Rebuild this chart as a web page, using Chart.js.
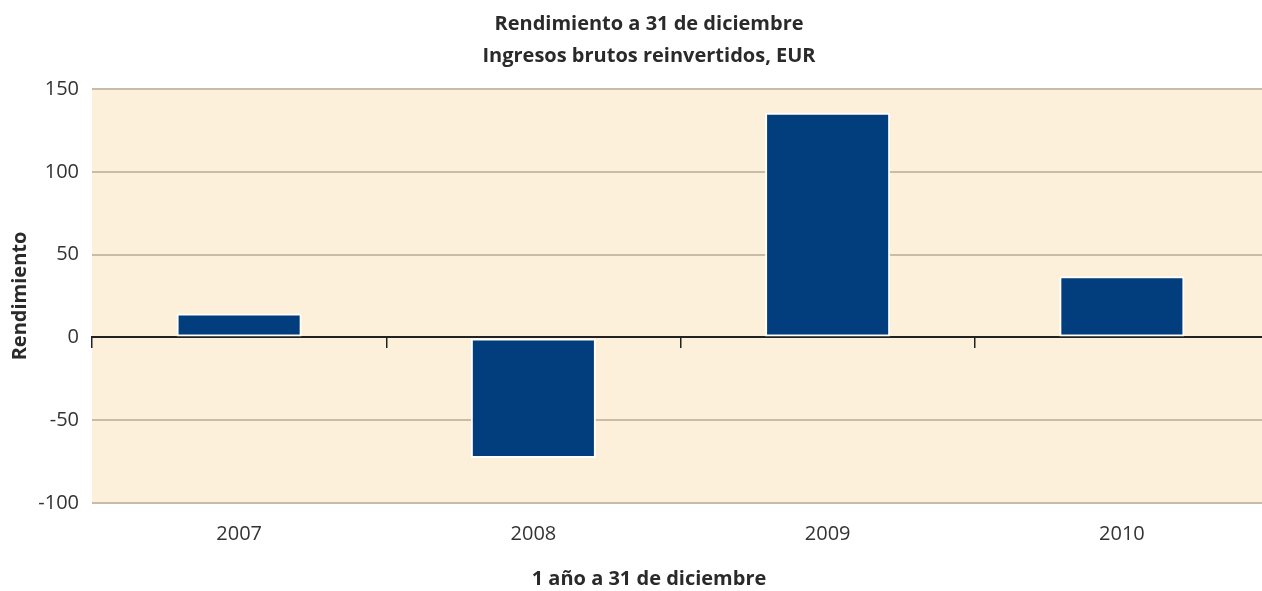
<!DOCTYPE html>
<html lang="es">
<head>
<meta charset="utf-8">
<title>Rendimiento a 31 de diciembre</title>
<script src="https://cdn.jsdelivr.net/npm/chart.js@4.4.1/dist/chart.umd.min.js"></script>
<style>
  html, body { margin: 0; padding: 0; background: #ffffff; overflow: hidden; }
  #chart { display: block; width: 1298px; height: 591px; }
</style>
</head>
<body>
<canvas id="chart" width="1298" height="591"></canvas>
<script>
// Data
const years = ['2007', '2008', '2009', '2010'];
const returns = [14.5, -72.8, 135.6, 37.0];
const yTicks = [-100, -50, 0, 50, 100, 150];

// Text
const titleLines = ['Rendimiento a 31 de diciembre', 'Ingresos brutos reinvertidos, EUR'];
const xTitle = '1 año a 31 de diciembre';
const yTitle = 'Rendimiento';

const FONT = "'Open Sans', 'Noto Sans', sans-serif";
const PLOT_BG = '#fcf0da';
const GRID = '#c9bca6';
const BAR = '#023e7d';
const INK = '#2a2a2a';

// Fill the plotting area with the cream background
const plotBackground = {
  id: 'plotBackground',
  beforeDraw(chart) {
    const { ctx, chartArea: a } = chart;
    ctx.save();
    ctx.fillStyle = PLOT_BG;
    ctx.fillRect(a.left, a.top, a.right - a.left, a.bottom - a.top);
    ctx.restore();
  }
};

new Chart(document.getElementById('chart'), {
  type: 'bar',
  data: {
    labels: years,
    datasets: [{
      data: returns,
      xAxisID: 'x',
      yAxisID: 'y',
      backgroundColor: BAR,
      borderColor: '#ffffff',
      borderWidth: 2,
      borderSkipped: false,
      categoryPercentage: 1,
      barPercentage: 0.425
    }]
  },
  options: {
    responsive: false,
    animation: false,
    devicePixelRatio: 1,
    layout: { padding: 0 },
    plugins: {
      legend: { display: false },
      tooltip: { enabled: false },
      title: {
        display: true,
        text: titleLines,
        color: INK,
        font: { family: FONT, size: 20, weight: 'bold', lineHeight: 1.575 },
        padding: { top: 9, bottom: 17 }
      },
      subtitle: {
        display: true,
        position: 'bottom',
        text: xTitle,
        color: INK,
        font: { family: FONT, size: 20, weight: 'bold', lineHeight: 1.2 },
        padding: { top: 2, bottom: 0 }
      }
    },
    scales: {
      x: {
        type: 'category',
        position: 'bottom',
        offset: true,
        grid: { display: false, drawTicks: false },
        border: { display: false },
        ticks: {
          color: '#333333',
          padding: 19,
          font: { family: FONT, size: 20 }
        }
      },
      // zero line with category separators
      xZero: {
        type: 'category',
        labels: years,
        position: { y: 0 },
        offset: true,
        grid: {
          offset: true,
          drawOnChartArea: false,
          drawTicks: true,
          tickLength: 10,
          color: '#222222',
          lineWidth: 1.5
        },
        border: { display: true, color: '#222222', width: 2 },
        ticks: { display: false }
      },
      y: {
        min: -100,
        max: 150,
        afterBuildTicks(scale) {
          scale.ticks = yTicks.map(v => ({ value: v }));
        },
        afterFit(scale) {
          scale.width = 92;
        },
        grid: {
          drawTicks: false,
          lineWidth: 2,
          color: ctx => (ctx.tick && ctx.tick.value === 0 ? 'rgba(0,0,0,0)' : GRID)
        },
        border: { display: false },
        ticks: {
          color: '#333333',
          padding: 13,
          font: { family: FONT, size: 20 }
        },
        title: {
          display: true,
          text: yTitle,
          color: INK,
          font: { family: FONT, size: 20, weight: 'bold', lineHeight: 1.2 },
          padding: { top: 8, bottom: 5 }
        }
      },
      // empty right-hand margin beside the plot
      yMargin: {
        type: 'linear',
        position: 'right',
        afterFit(scale) {
          scale.width = 29;
        },
        grid: { display: false, drawTicks: false },
        border: { display: false },
        ticks: { display: false }
      }
    }
  },
  plugins: [plotBackground]
});
</script>
</body>
</html>
